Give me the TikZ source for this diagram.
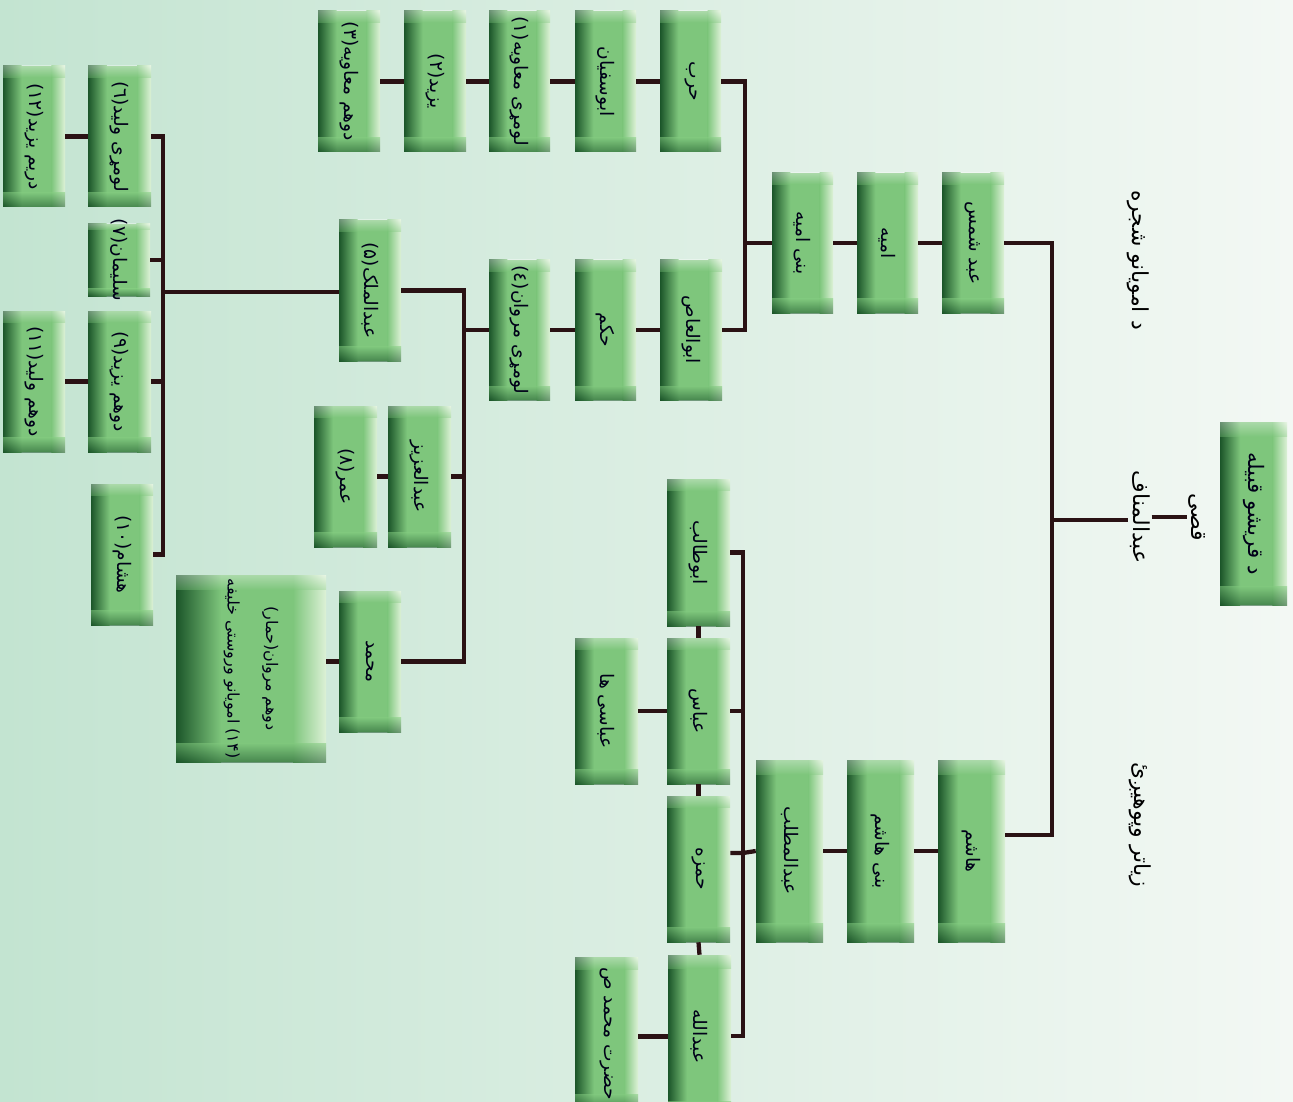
\documentclass[tikz,border=0pt]{standalone}
\usepackage{fontspec}
\usetikzlibrary{calc}
\newfontfamily\arabicfont[Script=Arabic]{DejaVu Sans}
\newfontfamily\numfont{DejaVu Sans}
\TeXXeTstate=1
\newcommand\rtl[1]{\beginR #1\endR}
\newcommand\nm[1]{{\numfont(#1)}}
\definecolor{bgL}{HTML}{C3E4D1}
\definecolor{bgR}{HTML}{F3F8F4}
\definecolor{boxdark}{HTML}{1B5529}
\definecolor{boxmid}{HTML}{7EC67C}
\definecolor{boxlight}{HTML}{DDF1D7}
\definecolor{linec}{HTML}{2A1214}
\tikzset{
  gbox/.style={draw=none, inner sep=0pt, path picture={
    \coordinate (sw) at (path picture bounding box.south west);
    \coordinate (ne) at (path picture bounding box.north east);
    \coordinate (pa) at ($(sw)!0.3!(ne)$);
    \coordinate (pb) at ($(sw)!0.78!(ne)$);
    \coordinate (pc) at ($(sw)!0.1!(ne)$);
    \coordinate (pd) at ($(sw)!0.92!(ne)$);
    \fill[boxmid] (sw) rectangle (ne);
    \shade[left color=boxdark, right color=boxmid] (sw) rectangle (pa |- ne);
    \shade[left color=boxmid, right color=boxlight] (pb |- sw) rectangle (ne);
    \shade[top color=boxmid, bottom color=boxdark, opacity=0.55] (sw) rectangle (ne |- pc);
    \shade[bottom color=boxmid, top color=white, opacity=0.35] (sw |- pd) rectangle (ne);
  }},
  txt/.style={rotate=-90, inner sep=1pt, text=black!90!blue, font=\arabicfont\fontsize{14}{17}\selectfont, align=center},
  smalltxt/.style={font=\arabicfont\fontsize{12}{15}\selectfont},
  bigtxt/.style={font=\arabicfont\fontsize{16}{20}\selectfont},
  htxt/.style={rotate=-90, inner sep=1pt, text=black, font=\arabicfont\fontsize{16.5}{20}\selectfont},
  conn/.style={draw=linec, line width=3.2pt},
}
\newcommand\gbx[7][]{%
  \node[gbox, minimum width={(#5-#3)*0.75pt}, minimum height={(#6-#4)*0.75pt}] (#2) at ({(#3+#5)/2},{(#4+#6)/2}) {};
  \node[txt,#1] at (#2.center) {#7};}
\begin{document}
\begin{tikzpicture}[x=0.75pt, y=-0.75pt]
\useasboundingbox (0,0) rectangle (1293,1102);
\clip (0,0) rectangle (1293,1102);
\shade[left color=bgL, right color=bgR] (0,0) rectangle (1293,1102);

% Umayyad top row
\gbx{m3}{318}{11}{380}{152}{\nm{۳}\rtl{دوهم معاویه}}
\gbx{yz1}{404}{11}{466}{152}{\nm{۲}\rtl{یزید}}
\gbx{m1}{489}{11}{550}{152}{\nm{۱}\rtl{لومړی معاویه}}
\gbx{abs}{575}{11}{636}{152}{\rtl{ابوسفیان}}
\gbx{harb}{660}{11}{721}{152}{\rtl{حرب}}
% second row
\gbx{bum}{772}{173}{833}{313}{\rtl{بنی امیه}}
\gbx{umy}{857}{173}{918}{313}{\rtl{امیه}}
\gbx{ash}{942}{173}{1004}{313}{\rtl{عبد شمس}}
% third row
\gbx{aas}{660}{260}{722}{400}{\rtl{ابوالعاص}}
\gbx{hkm}{575}{260}{636}{400}{\rtl{حکم}}
\gbx{mw1}{489}{260}{550}{400}{\nm{٤}\rtl{لومړی مروان}}
\gbx{amk}{339}{220}{401}{361}{\nm{۵}\rtl{عبدالملک}}
\gbx{aaz}{388}{406}{451}{547}{\rtl{عبدالعزیز}}
\gbx{umr}{314}{406}{377}{547}{\nm{۸}\rtl{عمر}}
\gbx{mhd}{339}{591}{401}{732}{\rtl{محمد}}
\gbx[smalltxt]{mw2}{176}{575}{326}{762}{{\numfont(}\rtl{حمار}{\numfont)}\rtl{دوهم مروان}\\[14pt]\rtl{امویانو وروستی خلیفه}\ \nm{۱۴}}
% left column
\gbx{wl1}{88}{66}{151}{207}{\nm{٦}\rtl{لومړی ولید}}
\gbx{yz3}{3}{66}{65}{207}{\nm{۱۲}\rtl{دریم یزید}}
\gbx{slm}{88}{224}{150}{296}{\nm{۷}\rtl{سلیمان}}
\gbx{yz2}{88}{311}{151}{452}{\nm{۹}\rtl{دوهم یزید}}
\gbx{wl2}{3}{311}{65}{452}{\nm{۱۱}\rtl{دوهم ولید}}
\gbx{hsm}{91}{484}{153}{625}{\nm{۱۰}\rtl{هشام}}
% Hashemite branch
\gbx{hsh}{938}{760}{1005}{942}{\rtl{هاشم}}
\gbx{bhs}{847}{760}{914}{942}{\rtl{بنی هاشم}}
\gbx{amt}{756}{760}{823}{942}{\rtl{عبدالمطلب}}
\gbx{abt}{667}{479}{730}{626}{\rtl{ابوطالب}}
\gbx{abb}{667}{638}{730}{784}{\rtl{عباس}}
\gbx{abh}{575}{638}{638}{784}{\rtl{عباسی ها}}
\gbx{hmz}{667}{796}{730}{942}{\rtl{حمزه}}
\gbx{abd}{668}{955}{731}{1118}{\rtl{عبدالله}}
\gbx{pmh}{575}{957}{638}{1110}{\rtl{حضرت محمد ص}}
% Quraysh
\gbx[bigtxt]{qrs}{1220}{422}{1287}{605}{\rtl{د قریشو قبیله}}

% headings
\node[htxt] (tum) at (1138,260) {\rtl{د امویانو شجره}};
\node[htxt] (tmore) at (1140,825) {\rtl{زیاتر وپوهیږئ}};
\node[htxt] (am) at (1140,517) {\rtl{عبدالمناف}};
\node[htxt] (qs) at (1197,517) {\rtl{قصی}};

% bus coordinates
\coordinate (tJ) at (1052,520);
\coordinate (tB) at (1052,835);
\coordinate (u1) at (745,243);
\coordinate (u2) at (464,330);
\coordinate (u3) at (163,292);
\coordinate (hb2) at (743,1036);
\coordinate (hb3) at (743,853);

% trunk
\draw[conn] (ash.east) -| (tB) -- (hsh.east |- tB);
\draw[conn] (tJ) -- (tJ -| am.south);
\draw[conn] (am.north) -- (qs.south);

% Umayyad chains
\draw[conn] (ash.west) -- (umy.east);
\draw[conn] (umy.west) -- (bum.east);
\draw[conn] (bum.west) -- (u1);
\draw[conn] (harb.east) -| (u1) |- (aas.east);
\draw[conn] (harb.west) -- (abs.east);
\draw[conn] (abs.west) -- (m1.east);
\draw[conn] (m1.west) -- (yz1.east);
\draw[conn] (yz1.west) -- (m3.east);
\draw[conn] (aas.west) -- (hkm.east);
\draw[conn] (hkm.west) -- (mw1.east);
\draw[conn] (amk.east) -| (u2) |- (mhd.east);
\draw[conn] (u2) -- (mw1.west);
\draw[conn] (aaz.east) -- (aaz.east -| u2);
\draw[conn] (aaz.west) -- (umr.east);
\draw[conn] (mhd.west) -- (mhd.west -| mw2.east);
\draw[conn] (wl1.east) -| (u3) |- (hsm.east);
\draw[conn] (u3) -- (amk.west |- u3);
\draw[conn] (slm.east) -- (slm.east -| u3);
\draw[conn] (yz2.east) -- (yz2.east -| u3);
\draw[conn] (wl1.west) -- (yz3.east);
\draw[conn] (yz2.west) -- (wl2.east);

% Hashemite chains
\draw[conn] (hsh.west) -- (bhs.east);
\draw[conn] (bhs.west) -- (amt.east);
\draw[conn] (amt.west) -- (hb3) -- (hb3 -| hmz.east);
\draw[conn] (abt.east) -| (hb2) -- (abd.east |- hb2);
\draw[conn] (abb.east) -- (abb.east -| hb2);
\draw[conn] (abb.west) -- (abh.east);
\draw[conn] (abd.west) -- (pmh.east |- abd.west);
\draw[conn] (abt.south) -- (abb.north);
\draw[conn] (abb.south) -- (hmz.north);
\draw[conn] (hmz.south) -- (abd.north);
\end{tikzpicture}
\end{document}
